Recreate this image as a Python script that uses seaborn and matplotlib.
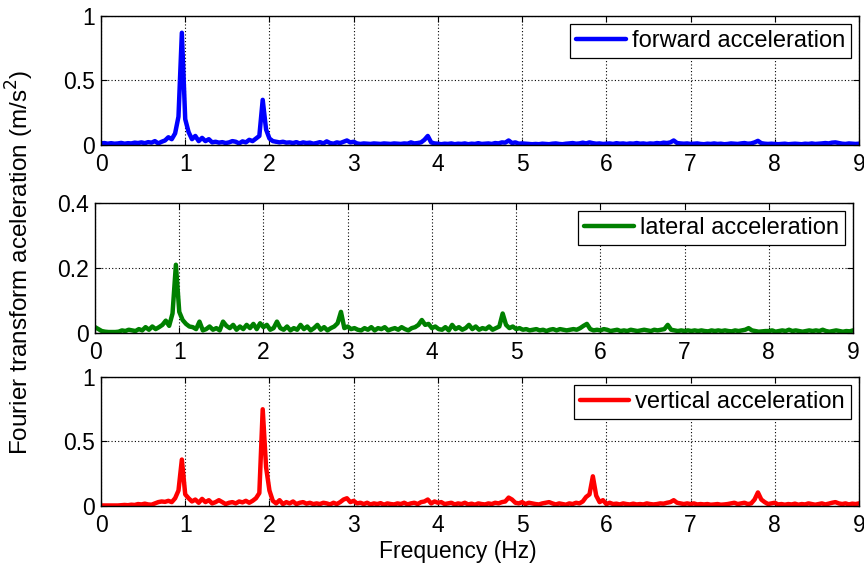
import numpy as np
import matplotlib
matplotlib.use("Agg")
import matplotlib.pyplot as plt
import seaborn as sns

# frequency grid (Hz), 0.04 Hz spacing from 0 to 9
freq = np.round(np.arange(226) * 0.04, 2)

# each row below covers one 1 Hz band (25 points), last value is 9.00 Hz
forward = [
    0.012, 0.015, 0.010, 0.014, 0.010, 0.012, 0.016, 0.010, 0.014, 0.012, 0.018, 0.015, 0.020,
    0.014, 0.022, 0.018, 0.030, 0.012, 0.025, 0.035, 0.060, 0.045, 0.090, 0.220, 0.870,
    0.200, 0.100, 0.045, 0.070, 0.030, 0.055, 0.030, 0.045, 0.020, 0.025, 0.018, 0.022, 0.015,
    0.020, 0.030, 0.025, 0.012, 0.028, 0.020, 0.040, 0.030, 0.050, 0.070, 0.350, 0.120,
    0.050, 0.030, 0.025, 0.020, 0.025, 0.018, 0.020, 0.015, 0.022, 0.012, 0.020, 0.015, 0.018,
    0.010, 0.015, 0.022, 0.012, 0.028, 0.015, 0.010, 0.020, 0.015, 0.025, 0.035, 0.020,
    0.025, 0.012, 0.008, 0.012, 0.010, 0.008, 0.012, 0.010, 0.008, 0.012, 0.010, 0.008, 0.012,
    0.010, 0.008, 0.012, 0.010, 0.020, 0.012, 0.015, 0.020, 0.040, 0.070, 0.020, 0.012,
    0.010, 0.006, 0.010, 0.008, 0.012, 0.006, 0.010, 0.008, 0.012, 0.006, 0.010, 0.008, 0.014,
    0.008, 0.010, 0.012, 0.008, 0.015, 0.012, 0.020, 0.018, 0.035, 0.015, 0.020, 0.010,
    0.012, 0.010, 0.008, 0.006, 0.008, 0.006, 0.010, 0.008, 0.006, 0.010, 0.012, 0.008, 0.006,
    0.010, 0.012, 0.015, 0.010, 0.012, 0.018, 0.012, 0.020, 0.014, 0.010, 0.012, 0.008,
    0.010, 0.012, 0.008, 0.014, 0.010, 0.012, 0.008, 0.012, 0.010, 0.015, 0.010, 0.012, 0.008,
    0.012, 0.010, 0.015, 0.012, 0.018, 0.015, 0.020, 0.035, 0.015, 0.012, 0.010, 0.012,
    0.008, 0.010, 0.012, 0.008, 0.006, 0.010, 0.008, 0.012, 0.008, 0.010, 0.006, 0.008, 0.012,
    0.010, 0.008, 0.012, 0.015, 0.010, 0.012, 0.020, 0.032, 0.014, 0.010, 0.008, 0.010,
    0.008, 0.006, 0.008, 0.010, 0.006, 0.008, 0.010, 0.008, 0.006, 0.010, 0.008, 0.012, 0.008,
    0.010, 0.012, 0.015, 0.012, 0.018, 0.020, 0.015, 0.010, 0.008, 0.012, 0.010, 0.008,
    0.010,
]

lateral = [
    0.018, 0.012, 0.006, 0.004, 0.003, 0.003, 0.003, 0.004, 0.008, 0.006, 0.010, 0.008, 0.006,
    0.012, 0.008, 0.018, 0.010, 0.020, 0.012, 0.018, 0.025, 0.038, 0.022, 0.060, 0.210,
    0.065, 0.040, 0.028, 0.020, 0.018, 0.012, 0.035, 0.008, 0.012, 0.020, 0.010, 0.015, 0.008,
    0.035, 0.022, 0.015, 0.025, 0.010, 0.020, 0.012, 0.025, 0.015, 0.028, 0.012, 0.030,
    0.018, 0.025, 0.010, 0.015, 0.035, 0.015, 0.010, 0.020, 0.008, 0.015, 0.010, 0.025, 0.012,
    0.020, 0.008, 0.015, 0.025, 0.010, 0.018, 0.008, 0.015, 0.020, 0.030, 0.065, 0.015,
    0.020, 0.012, 0.015, 0.010, 0.008, 0.015, 0.010, 0.018, 0.008, 0.015, 0.012, 0.018, 0.008,
    0.012, 0.015, 0.010, 0.018, 0.012, 0.008, 0.015, 0.018, 0.025, 0.040, 0.025, 0.028,
    0.015, 0.020, 0.012, 0.010, 0.018, 0.008, 0.025, 0.012, 0.018, 0.010, 0.015, 0.025, 0.012,
    0.020, 0.010, 0.015, 0.012, 0.020, 0.010, 0.015, 0.020, 0.060, 0.025, 0.015, 0.020,
    0.012, 0.015, 0.010, 0.012, 0.008, 0.010, 0.012, 0.008, 0.010, 0.006, 0.010, 0.012, 0.008,
    0.012, 0.010, 0.008, 0.010, 0.012, 0.010, 0.015, 0.022, 0.028, 0.012, 0.008, 0.010,
    0.008, 0.012, 0.010, 0.006, 0.008, 0.010, 0.006, 0.008, 0.006, 0.010, 0.008, 0.006, 0.008,
    0.010, 0.008, 0.006, 0.010, 0.008, 0.010, 0.012, 0.025, 0.010, 0.008, 0.006, 0.008,
    0.006, 0.008, 0.006, 0.008, 0.006, 0.008, 0.006, 0.005, 0.008, 0.006, 0.008, 0.006, 0.008,
    0.006, 0.005, 0.008, 0.006, 0.008, 0.010, 0.015, 0.008, 0.006, 0.004, 0.005, 0.006,
    0.006, 0.008, 0.004, 0.006, 0.008, 0.006, 0.010, 0.006, 0.008, 0.006, 0.004, 0.006, 0.008,
    0.006, 0.008, 0.006, 0.010, 0.006, 0.004, 0.006, 0.008, 0.006, 0.004, 0.006, 0.005,
    0.008,
]

vertical = [
    0.004, 0.004, 0.004, 0.004, 0.004, 0.004, 0.006, 0.008, 0.006, 0.010, 0.008, 0.015, 0.012,
    0.018, 0.012, 0.010, 0.020, 0.030, 0.035, 0.032, 0.040, 0.030, 0.060, 0.120, 0.360,
    0.090, 0.060, 0.035, 0.050, 0.025, 0.055, 0.030, 0.045, 0.020, 0.030, 0.045, 0.030, 0.015,
    0.025, 0.030, 0.020, 0.035, 0.028, 0.040, 0.025, 0.040, 0.060, 0.100, 0.750, 0.300,
    0.120, 0.040, 0.020, 0.045, 0.015, 0.030, 0.020, 0.035, 0.015, 0.025, 0.030, 0.018, 0.025,
    0.015, 0.020, 0.015, 0.025, 0.020, 0.012, 0.025, 0.015, 0.030, 0.050, 0.060, 0.030,
    0.040, 0.020, 0.025, 0.015, 0.025, 0.012, 0.020, 0.015, 0.022, 0.010, 0.020, 0.015, 0.012,
    0.020, 0.015, 0.025, 0.012, 0.020, 0.025, 0.015, 0.030, 0.035, 0.050, 0.020, 0.035,
    0.025, 0.030, 0.015, 0.020, 0.025, 0.012, 0.020, 0.015, 0.025, 0.012, 0.018, 0.010, 0.020,
    0.015, 0.012, 0.020, 0.015, 0.025, 0.020, 0.030, 0.035, 0.065, 0.050, 0.025, 0.020,
    0.030, 0.015, 0.025, 0.020, 0.015, 0.012, 0.020, 0.025, 0.030, 0.020, 0.012, 0.020, 0.015,
    0.010, 0.020, 0.015, 0.025, 0.020, 0.035, 0.070, 0.090, 0.230, 0.080, 0.030, 0.045,
    0.015, 0.025, 0.015, 0.018, 0.012, 0.020, 0.015, 0.012, 0.018, 0.012, 0.015, 0.012, 0.020,
    0.015, 0.012, 0.015, 0.020, 0.018, 0.025, 0.030, 0.045, 0.025, 0.020, 0.015, 0.020,
    0.015, 0.020, 0.012, 0.015, 0.012, 0.015, 0.010, 0.012, 0.015, 0.010, 0.012, 0.015, 0.020,
    0.025, 0.015, 0.020, 0.025, 0.015, 0.020, 0.050, 0.105, 0.050, 0.030, 0.015, 0.020,
    0.025, 0.012, 0.015, 0.010, 0.015, 0.012, 0.018, 0.010, 0.015, 0.012, 0.020, 0.015, 0.010,
    0.015, 0.020, 0.012, 0.018, 0.025, 0.030, 0.020, 0.015, 0.020, 0.012, 0.018, 0.015,
    0.020,
]

series = [
    (forward, "forward acceleration", "#0000ff", 1.0, [0, 0.5, 1], ["0", "0.5", "1"]),
    (lateral, "lateral acceleration", "#008000", 0.4, [0, 0.2, 0.4], ["0", "0.2", "0.4"]),
    (vertical, "vertical acceleration", "#ff0000", 1.0, [0, 0.5, 1], ["0", "0.5", "1"]),
]

# axes rectangles in figure fractions (left, bottom, width, height)
positions = [
    [0.1169, 0.7443, 0.8773, 0.2275],
    [0.1100, 0.4127, 0.8773, 0.2293],
    [0.1169, 0.1076, 0.8773, 0.2275],
]

FS = 16.5

sns.set_style("ticks")
plt.rcParams["font.family"] = ["Liberation Sans", "DejaVu Sans"]
plt.rcParams["text.color"] = "black"

fig = plt.figure(figsize=(8.64, 5.67), dpi=100)

for (vals, name, color, ymax, yticks, ylabels), pos in zip(series, positions):
    ax = fig.add_axes(pos)
    sns.lineplot(x=freq, y=vals, ax=ax, color=color, linewidth=3.2, label=name)
    ax.set_xlim(0, 9)
    ax.set_ylim(0, ymax)
    ax.set_xticks(range(10))
    ax.set_yticks(yticks)
    ax.set_yticklabels(ylabels)
    ax.grid(True, color="black", linestyle=(0, (1, 2)), linewidth=0.8)
    ax.tick_params(direction="in", top=True, right=True, length=4, width=0.8,
                   labelsize=FS, colors="black")
    ax.tick_params(axis="x", pad=6)
    ax.tick_params(axis="y", pad=4.5)
    for sp in ax.spines.values():
        sp.set_color("black")
        sp.set_linewidth(1.0)
    leg = ax.legend(loc="upper right", fontsize=17, fancybox=False, edgecolor="black",
                    framealpha=1, handlelength=2.1, handletextpad=0.25, borderpad=0.25,
                    borderaxespad=0.35, labelcolor="black")
    leg.get_frame().set_linewidth(0.9)

fig.text(0.023, 0.537, "Fourier transform aceleration (m/s$^2$)", rotation=90,
         ha="center", va="center", fontsize=17.5, color="black")
fig.text(0.53, 0.028, "Frequency (Hz)", ha="center", va="center", fontsize=FS,
         color="black")

fig.savefig("out.png", dpi=100)
